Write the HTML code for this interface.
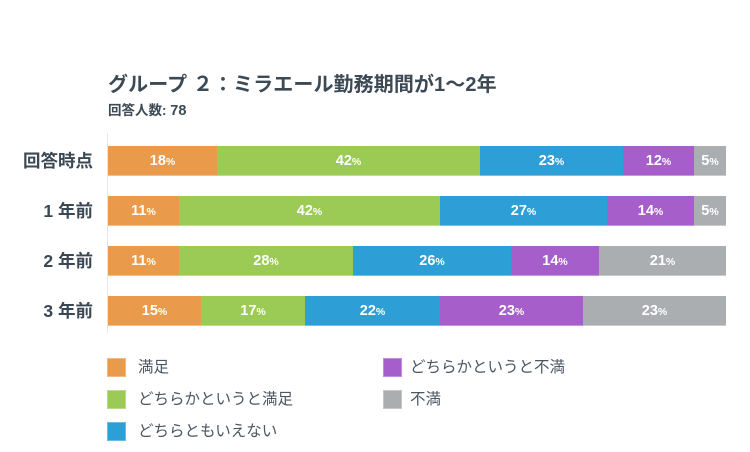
<!DOCTYPE html>
<html><head><meta charset="utf-8">
<style>
html,body{margin:0;padding:0;background:#fff;}
body{width:750px;height:452px;position:relative;overflow:hidden;font-family:"Liberation Sans","Noto Sans CJK JP",sans-serif;color:#3c4a56;}
.t{position:absolute;white-space:nowrap;}
.title{left:108px;top:72px;font-size:20px;font-weight:bold;line-height:26px;letter-spacing:0.1px;}
.sub{left:108px;top:102px;font-size:13.5px;font-weight:bold;line-height:18px;}
.sub b{font-size:14.5px;}
.cat{position:absolute;right:657px;font-size:17.5px;font-weight:bold;line-height:30px;height:30px;text-align:right;color:#3a4855;}
.axis{position:absolute;left:107px;top:133px;width:1px;height:200px;background:#e2e7ee;}
.seg{position:absolute;height:30px;line-height:30px;text-align:center;color:#fff;font-weight:bold;font-size:14.5px;box-shadow:inset 0 -1px 0 rgba(255,255,255,0.35);}
.seg small{font-size:10.5px;}
.o{background:#e99b4b;}.g{background:#9bca55;}.b{background:#2d9fd6;}.p{background:#a65ecb;}.y{background:#abaeb1;}
.sq{position:absolute;width:19px;height:19px;box-shadow:inset 0 0 0 1px rgba(255,255,255,0.3);}
.lg{position:absolute;font-size:15.5px;line-height:20px;color:#4a5662;white-space:nowrap;}
</style></head><body>
<div class="t title">グループ ２：ミラエール勤務期間が1〜2年</div>
<div class="t sub">回答人数: <b>78</b></div>

<div class="axis"></div>

<div class="cat" style="top:146px;">回答時点</div>
<div class="cat" style="top:196px;">1 年前</div>
<div class="cat" style="top:246px;">2 年前</div>
<div class="cat" style="top:296px;">3 年前</div>

<!-- row 1 -->
<div class="seg o" style="top:146px;left:108px;width:109px;">18<small>%</small></div>
<div class="seg g" style="top:146px;left:217px;width:263px;">42<small>%</small></div>
<div class="seg b" style="top:146px;left:480px;width:143px;">23<small>%</small></div>
<div class="seg p" style="top:146px;left:623px;width:71px;">12<small>%</small></div>
<div class="seg y" style="top:146px;left:694px;width:32px;">5<small>%</small></div>
<!-- row 2 -->
<div class="seg o" style="top:196px;left:108px;width:71px;">11<small>%</small></div>
<div class="seg g" style="top:196px;left:179px;width:261px;">42<small>%</small></div>
<div class="seg b" style="top:196px;left:440px;width:167px;">27<small>%</small></div>
<div class="seg p" style="top:196px;left:607px;width:87px;">14<small>%</small></div>
<div class="seg y" style="top:196px;left:694px;width:32px;">5<small>%</small></div>
<!-- row 3 -->
<div class="seg o" style="top:246px;left:108px;width:71px;">11<small>%</small></div>
<div class="seg g" style="top:246px;left:179px;width:174px;">28<small>%</small></div>
<div class="seg b" style="top:246px;left:353px;width:158px;">26<small>%</small></div>
<div class="seg p" style="top:246px;left:511px;width:88px;">14<small>%</small></div>
<div class="seg y" style="top:246px;left:599px;width:127px;">21<small>%</small></div>
<!-- row 4 -->
<div class="seg o" style="top:296px;left:108px;width:93px;">15<small>%</small></div>
<div class="seg g" style="top:296px;left:201px;width:104px;">17<small>%</small></div>
<div class="seg b" style="top:296px;left:305px;width:135px;">22<small>%</small></div>
<div class="seg p" style="top:296px;left:440px;width:143px;">23<small>%</small></div>
<div class="seg y" style="top:296px;left:583px;width:143px;">23<small>%</small></div>

<!-- legend -->
<div class="sq o" style="left:107px;top:358px;"></div>
<div class="lg" style="left:138px;top:358px;">満足</div>
<div class="sq g" style="left:107px;top:390px;"></div>
<div class="lg" style="left:138px;top:390px;">どちらかというと満足</div>
<div class="sq b" style="left:107px;top:422px;"></div>
<div class="lg" style="left:138px;top:422px;">どちらともいえない</div>
<div class="sq p" style="left:383px;top:358px;"></div>
<div class="lg" style="left:410px;top:358px;">どちらかというと不満</div>
<div class="sq y" style="left:383px;top:390px;"></div>
<div class="lg" style="left:410px;top:390px;">不満</div>
</body></html>
